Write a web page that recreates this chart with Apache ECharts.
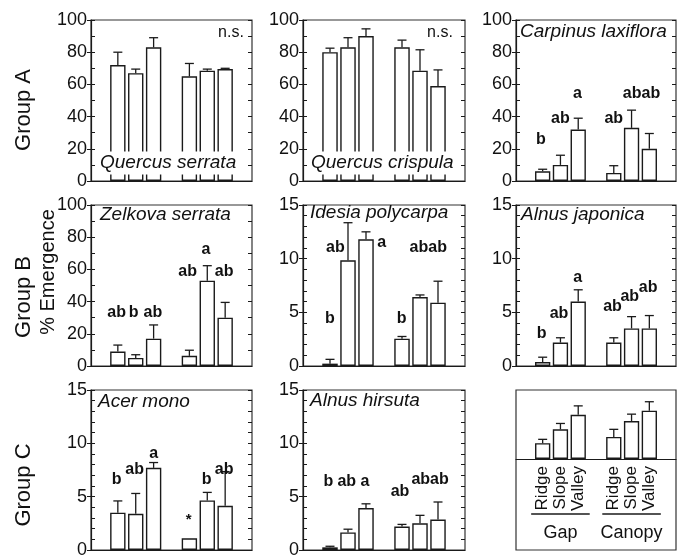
<!DOCTYPE html>
<html><head><meta charset="utf-8">
<script src="https://cdn.jsdelivr.net/npm/echarts@6/dist/echarts.min.js"></script>
<style>html,body{margin:0;padding:0;background:#fff}#c{width:677px;height:559px}</style>
</head><body><div id="c"></div>
<script>
// ---------- data ----------
const slots = ['', 'Gap Ridge', 'Gap Slope', 'Gap Valley', '', 'Canopy Ridge', 'Canopy Slope', 'Canopy Valley', ''];
const barSlots = [1, 2, 3, 5, 6, 7];
const legendTickLabels = ['', 'Ridge', 'Slope', 'Valley', '', 'Ridge', 'Slope', 'Valley', ''];
const legendGroups = ['Gap', 'Canopy'];

const quercusSerrataMean = [72, 67, 83, 65, 68.5, 69.5];
const quercusSerrataSE   = [8, 2.5, 6, 8, 1, 0.5];
const quercusCrispulaMean = [80, 83, 90, 83, 68.5, 59];
const quercusCrispulaSE   = [2.5, 6, 4.5, 4.5, 13, 10];
const carpinusMean = [6, 10, 32, 5, 33, 20];
const carpinusSE   = [1.3, 6, 7, 4.5, 11, 9.5];
const zelkovaMean = [9, 5, 17, 6.3, 53, 30];
const zelkovaSE   = [4, 2, 8.5, 3.5, 9.3, 9.5];
const idesiaMean = [0.22, 9.85, 11.8, 2.55, 6.42, 5.9];
const idesiaSE   = [0.4, 3.5, 0.7, 0.2, 0.2, 2.0];
const alnusJaponicaMean = [0.37, 2.18, 6.0, 2.18, 3.5, 3.5];
const alnusJaponicaSE   = [0.45, 0.45, 1.1, 0.45, 1.1, 1.2];
const acerMonoMean = [3.5, 3.4, 7.7, 1.1, 4.65, 4.15];
const acerMonoSE   = [1.1, 1.9, 0.5, 0, 0.75, 3.2];
const alnusHirsutaMean = [0.25, 1.65, 3.93, 2.2, 2.5, 2.85];
const alnusHirsutaSE   = [0.1, 0.3, 0.4, 0.2, 0.75, 1.65];
const legendMean = [2.3, 4.3, 6.4, 3.2, 5.5, 7.0];
const legendSE   = [0.55, 0.85, 1.3, 1.1, 1.0, 1.3];

// significance letters: [slot, value, text]
const carpinusLetters = [[0.9, 26, 'b'], [2.0, 39, 'ab'], [2.95, 54, 'a'], [5.0, 39, 'ab'], [6.56, 54.5, 'abab']];
const zelkovaLetters = [[0.93, 33, 'ab'], [1.89, 33, 'b'], [2.96, 33, 'ab'], [4.9, 58.6, 'ab'], [5.93, 72, 'a'], [6.94, 58.6, 'ab']];
const idesiaLetters = [[1.0, 4.44, 'b'], [1.3, 11.06, 'ab'], [3.87, 11.5, 'a'], [4.98, 4.44, 'b'], [6.46, 11.06, 'abab']];
const alnusJaponicaLetters = [[0.94, 3.05, 'b'], [1.92, 4.9, 'ab'], [2.97, 8.27, 'a'], [4.93, 5.53, 'ab'], [5.9, 6.46, 'ab'], [6.93, 7.33, 'ab']];
const acerMonoLetters = [[0.93, 6.56, 'b'], [1.94, 7.5, 'ab'], [3.0, 9.06, 'a'], [4.96, 2.8, '*'], [5.96, 6.56, 'b'], [6.94, 7.5, 'ab']];
const alnusHirsutaLetters = [[0.91, 6.4, 'b'], [1.93, 6.4, 'ab'], [2.94, 6.4, 'a'], [4.89, 5.47, 'ab'], [6.56, 6.56, 'abab']];

const groupLabels = ['Group A', 'Group B', 'Group C'];
const yTitle = '% Emergence';

// ---------- layout ----------
const FONT = '"Liberation Sans", Arial, Helvetica, sans-serif';
const colLeft = [91, 303, 516];
const colWidth = [161, 162, 160];
const rowTop = [20, 205, 390];
const rowHeight = [161, 161, 160];
const legendBarHeight = 69;

const panels = [
  {mean: quercusSerrataMean, se: quercusSerrataSE, letters: [], max: 100, title: 'Quercus serrata', tx: 98, ty: 163, bg: true, ns: [231, 33]},
  {mean: quercusCrispulaMean, se: quercusCrispulaSE, letters: [], max: 100, title: 'Quercus crispula', tx: 309, ty: 163, bg: true, ns: [440, 33]},
  {mean: carpinusMean, se: carpinusSE, letters: carpinusLetters, max: 100, title: 'Carpinus laxiflora', tx: 520, ty: 32},
  {mean: zelkovaMean, se: zelkovaSE, letters: zelkovaLetters, max: 100, title: 'Zelkova serrata', tx: 100, ty: 215},
  {mean: idesiaMean, se: idesiaSE, letters: idesiaLetters, max: 15, title: 'Idesia polycarpa', tx: 310, ty: 213},
  {mean: alnusJaponicaMean, se: alnusJaponicaSE, letters: alnusJaponicaLetters, max: 15, title: 'Alnus japonica', tx: 521, ty: 215},
  {mean: acerMonoMean, se: acerMonoSE, letters: acerMonoLetters, max: 15, title: 'Acer mono', tx: 98, ty: 402},
  {mean: alnusHirsutaMean, se: alnusHirsutaSE, letters: alnusHirsutaLetters, max: 15, title: 'Alnus hirsuta', tx: 310, ty: 401},
  {mean: legendMean, se: legendSE, letters: [], legend: true}
];

const grid = [], xAxis = [], yAxis = [], series = [];
const INK = '#1a1a1a';

function fullSlots(vals) {
  const arr = slots.map(() => null);
  barSlots.forEach((s, i) => { arr[s] = vals[i]; });
  return arr;
}

panels.forEach((p, k) => {
  const r = Math.floor(k / 3), c = k % 3;
  const isL = !!p.legend;
  grid.push({left: colLeft[c], top: rowTop[r], width: colWidth[c], height: isL ? legendBarHeight : rowHeight[r],
    show: !isL, borderColor: '#333', borderWidth: 1.2, containLabel: false, outerBoundsMode: 'none'});
  xAxis.push({
    gridIndex: k, type: 'category', data: isL ? legendTickLabels : slots,
    axisLine: {show: true, onZero: true, lineStyle: {color: INK, width: 1.2}},
    axisTick: {show: false},
    axisLabel: isL ? {show: true, interval: 0, rotate: 90, margin: 7, fontSize: 17, color: '#111', fontFamily: FONT} : {show: false},
    splitLine: {show: false}
  });
  const min = 0;
  const max = isL ? 10 : p.max;
  const major = p.max === 100 ? 20 : 5;
  const minor = p.max === 100 ? 10 : 1;
  yAxis.push({
    gridIndex: k, type: 'value', min, max, interval: isL ? 1 : major, position: 'left', show: !isL,
    axisLine: {show: true, lineStyle: {color: INK, width: 1.2}},
    axisTick: {show: true, inside: false, length: 4, lineStyle: {color: INK, width: 1}},
    axisLabel: {show: true, fontSize: 18, color: '#111', margin: 4, fontFamily: FONT},
    splitLine: {show: false}
  });
  yAxis.push({
    gridIndex: k, type: 'value', min, max, interval: isL ? 1 : minor, position: 'left', show: !isL,
    axisLine: {show: false}, axisTick: {show: true, inside: true, length: 4, lineStyle: {color: INK, width: 1}},
    axisLabel: {show: false}, splitLine: {show: false}
  });
  yAxis.push({
    gridIndex: k, type: 'value', min, max, interval: isL ? 1 : minor, position: 'right', show: !isL,
    axisLine: {show: false}, axisTick: {show: true, inside: true, length: 4, lineStyle: {color: INK, width: 1}},
    axisLabel: {show: false}, splitLine: {show: false}
  });

  series.push({
    type: 'bar', xAxisIndex: k, yAxisIndex: 3 * k, data: fullSlots(p.mean), barWidth: '86%',
    itemStyle: {color: '#fff', borderColor: INK, borderWidth: 1.4}, silent: true, z: 2, animation: false
  });
  const errData = barSlots.map((s, i) => [s, p.mean[i], p.se[i]]);
  series.push({
    type: 'custom', xAxisIndex: k, yAxisIndex: 3 * k, data: errData, z: 3, silent: true, animation: false,
    renderItem: function (params, api) {
      const d = errData[params.dataIndex];
      if (!d[2]) return null;
      const a = api.coord([d[0], d[1]]), b = api.coord([d[0], d[1] + d[2]]);
      const st = {stroke: INK, lineWidth: 1.3};
      return {type: 'group', children: [
        {type: 'line', shape: {x1: a[0], y1: a[1], x2: b[0], y2: b[1]}, style: st},
        {type: 'line', shape: {x1: b[0] - 4.5, y1: b[1], x2: b[0] + 4.5, y2: b[1]}, style: st}
      ]};
    }
  });
  if (p.letters.length) {
    const L = p.letters;
    series.push({
      type: 'custom', xAxisIndex: k, yAxisIndex: 3 * k, data: L.map(l => [Math.round(l[0]), l[1]]), z: 4, silent: true, animation: false,
      renderItem: function (params, api) {
        const l = L[params.dataIndex];
        const f = Math.floor(l[0]);
        const a = api.coord([f, l[1]]), b = api.coord([f + 1, l[1]]);
        const x = a[0] + (l[0] - f) * (b[0] - a[0]);
        return {type: 'text', x: x, y: a[1], style: {text: l[2], fill: '#111',
          font: (l[2] === '*' ? 'bold 15px ' : 'bold 16px ') + FONT, align: 'center', verticalAlign: 'middle'}};
      }
    });
  }
});

// outer frame of the legend panel (an empty grid with its border)
grid.push({left: colLeft[2], top: rowTop[2], width: colWidth[2], height: rowHeight[2], show: true,
  borderColor: '#333', borderWidth: 1.2, outerBoundsMode: 'none'});
xAxis.push({gridIndex: 9, type: 'category', data: slots, show: false});
yAxis.push({gridIndex: 9, type: 'value', min: 0, max: 1, show: false});

const chart = echarts.init(document.getElementById('c'), null, {renderer: 'canvas'});
chart.setOption({animation: false, backgroundColor: '#fff', grid, xAxis, yAxis, series});

// ---------- texts ----------
const graphic = [];
const groupPos = [[24, 110], [24, 297], [24, 485]];
groupLabels.forEach((g, i) => {
  graphic.push({type: 'text', x: groupPos[i][0], y: groupPos[i][1], rotation: Math.PI / 2, z: 100,
    style: {text: g, font: '22px ' + FONT, fill: '#111', align: 'center', verticalAlign: 'middle'}});
});
graphic.push({type: 'text', x: 48, y: 272, rotation: Math.PI / 2, z: 100,
  style: {text: yTitle, font: '20px ' + FONT, fill: '#111', align: 'center', verticalAlign: 'middle'}});

panels.forEach(p => {
  if (p.title) {
    const st = {text: p.title, font: 'italic 19px ' + FONT, fill: '#111', align: 'left', verticalAlign: 'middle'};
    if (p.bg) { st.backgroundColor = '#fff'; st.padding = [2, 2, 2, 2]; }
    graphic.push({type: 'text', x: p.tx, y: p.ty, z: 100, style: st});
  }
  if (p.ns) {
    graphic.push({type: 'text', x: p.ns[0], y: p.ns[1], z: 100,
      style: {text: 'n.s.', font: '16px ' + FONT, fill: '#111', align: 'center', verticalAlign: 'middle'}});
  }
});

// legend group names + underlines, from the category scale of the legend panel
const LX = 8;
const groupSpans = [[1, 3], [5, 7]];
groupSpans.forEach((sp, i) => {
  const x1 = chart.convertToPixel({xAxisIndex: LX}, sp[0]);
  const x2 = chart.convertToPixel({xAxisIndex: LX}, sp[1]);
  graphic.push({type: 'line', z: 100, shape: {x1: x1 - 11.5, y1: 514, x2: x2 + 11.5, y2: 514}, style: {stroke: INK, lineWidth: 1.3}});
  graphic.push({type: 'text', x: (x1 + x2) / 2, y: 533, z: 100,
    style: {text: legendGroups[i], font: '18px ' + FONT, fill: '#111', align: 'center', verticalAlign: 'middle'}});
});

chart.setOption({graphic});
</script>
</body></html>
